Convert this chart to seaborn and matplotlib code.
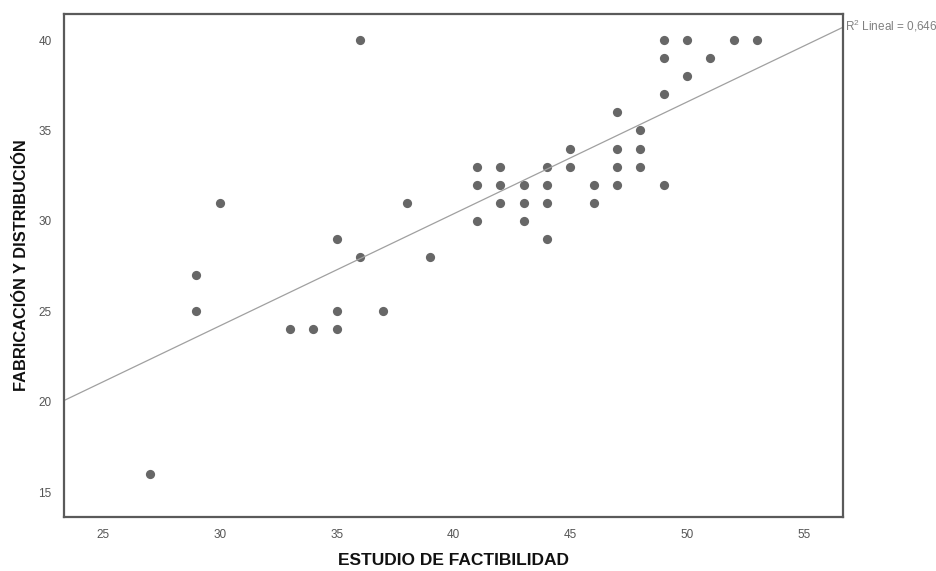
import matplotlib
matplotlib.use("Agg")
import matplotlib.pyplot as plt
import seaborn as sns
import pandas as pd

# Scores per respondent
estudio = [27, 29, 29, 30, 33, 34, 35, 35, 35, 36, 36, 37, 38, 39,
           41, 41, 41, 42, 42, 42, 43, 43, 43, 44, 44, 44, 44,
           45, 45, 46, 46, 47, 47, 47, 47, 48, 48, 48,
           49, 49, 49, 49, 50, 50, 51, 52, 53]
fabricacion = [16, 27, 25, 31, 24, 24, 24, 25, 29, 40, 28, 25, 31, 28,
               33, 32, 30, 33, 32, 31, 32, 31, 30, 33, 32, 31, 29,
               34, 33, 32, 31, 36, 34, 33, 32, 35, 34, 33,
               40, 39, 37, 32, 40, 38, 39, 40, 40]

x_ticks = [25, 30, 35, 40, 45, 50, 55]
y_ticks = [15, 20, 25, 30, 35, 40]
r2_label = "R$^{2}$ Lineal = 0,646"

df = pd.DataFrame({"ESTUDIO DE FACTIBILIDAD": estudio,
                   "FABRICACIÓN Y DISTRIBUCIÓN": fabricacion})

sns.set_style("white")
plt.rcParams["font.family"] = ["Liberation Sans", "DejaVu Sans"]
plt.rcParams["mathtext.fontset"] = "custom"
plt.rcParams["mathtext.rm"] = "Liberation Sans"
plt.rcParams["mathtext.it"] = "Liberation Sans"
plt.rcParams["mathtext.default"] = "rm"

fig = plt.figure(figsize=(9.36, 5.71), dpi=100)
ax = fig.add_axes([0.0684, 0.0946, 0.8322, 0.8809])
ax.set_xlim(23.33, 56.67)
ax.set_ylim(13.62, 41.44)

sns.regplot(data=df, x="ESTUDIO DE FACTIBILIDAD", y="FABRICACIÓN Y DISTRIBUCIÓN",
            ax=ax, ci=None, truncate=False,
            scatter_kws=dict(s=44, color="#676767", linewidths=0, alpha=1),
            line_kws=dict(color="#a0a0a0", linewidth=0.9))

ax.set_xlim(23.33, 56.67)
ax.set_ylim(13.62, 41.44)
ax.set_xticks(x_ticks)
ax.set_yticks(y_ticks)
ax.tick_params(axis="both", length=0, labelsize=8.5, labelcolor="#555555", pad=9)

for side in ax.spines.values():
    side.set_color("#5a5a5a")
    side.set_linewidth(1.6)

ax.set_xlabel("ESTUDIO DE FACTIBILIDAD", fontsize=12.5, fontweight="bold",
              color="#111111", labelpad=8)
ax.set_ylabel("FABRICACIÓN Y DISTRIBUCIÓN", fontsize=11.8, fontweight="bold",
              color="#111111", labelpad=7)

# Fit label placed at the right end of the regression line
fit_line = ax.lines[0]
xe, ye = fit_line.get_xydata()[-1]
ax.annotate(r2_label, xy=(xe, ye), xytext=(1.5, 1.0), textcoords="offset points",
            ha="left", va="center", fontsize=8.5, color="#808080",
            annotation_clip=False)

fig.savefig("out.png", dpi=100)
